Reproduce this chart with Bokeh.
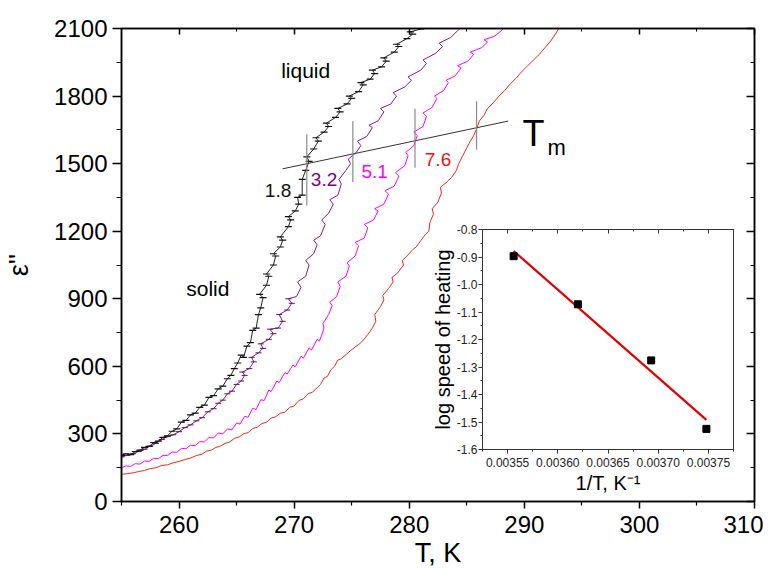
import numpy as np
from bokeh.plotting import figure
from bokeh.layouts import row
from bokeh.models import LinearAxis, FixedTicker, PrintfTickFormatter, Range1d
from bokeh.core.properties import value
from bokeh.embed import file_html
from bokeh.resources import INLINE

FONT = "Liberation Sans"

# ---------------- main chart data ----------------
x_ticks = [260, 270, 280, 290, 300, 310]
x_minor = [255, 265, 275, 285, 295, 305]
y_ticks = [0, 300, 600, 900, 1200, 1500, 1800, 2100]
y_minor = [150, 450, 750, 1050, 1350, 1650, 1950]

# 1.8 K/min (black)
T_18 = [255.0, 255.4, 255.8, 256.2, 256.6, 257.0, 257.4, 257.8, 258.2, 258.6, 259.0, 259.4, 259.8,
        260.2, 260.6, 261.0, 261.4, 261.8, 262.2, 262.6, 263.0, 263.4, 263.8, 264.2, 264.5, 264.8,
        265.1, 265.4, 265.6, 265.9, 266.2, 266.4, 266.7, 266.9, 267.1, 267.3, 267.0, 267.6, 267.8,
        267.6, 268.2, 268.4, 268.2, 268.8, 269.0, 268.8, 269.5, 269.7, 269.5, 270.1, 270.4, 270.3,
        270.7, 270.7, 271.0, 271.3, 271.1, 271.7, 272.1, 271.9, 272.6, 273.0, 272.8, 273.6, 274.0,
        273.8, 274.6, 275.0, 274.8, 275.6, 276.0, 275.8, 276.6, 277.0, 276.8, 277.6, 278.0, 277.8,
        278.7, 279.1, 278.9, 279.8, 280.3, 280.1, 281.0, 281.3]
E_18 = [205, 212, 208, 222, 228, 240, 245, 262, 268, 285, 292, 312, 322,
        352, 360, 385, 392, 418, 428, 462, 470, 500, 512, 545, 560, 590,
        615, 650, 640, 690, 705, 760, 770, 830, 860, 905, 920, 960, 1000,
        1010, 1050, 1090, 1100, 1130, 1160, 1175, 1220, 1250, 1265, 1290, 1320, 1350,
        1360, 1430, 1470, 1510, 1530, 1565, 1600, 1615, 1640, 1665, 1680, 1705, 1730,
        1745, 1765, 1790, 1800, 1820, 1850, 1860, 1875, 1900, 1915, 1930, 1955, 1970,
        1995, 2020, 2030, 2055, 2075, 2085, 2098, 2100]

# 3.2 K/min (purple)
T_32 = [255.0, 255.5, 256.0, 256.5, 257.0, 257.5, 258.0, 258.5, 259.0, 259.5, 260.0, 260.5, 261.0,
        261.5, 262.0, 262.5, 263.0, 263.4, 263.8, 264.2, 264.6, 265.0, 265.4, 265.7, 265.5, 266.1,
        266.5, 266.3, 266.9, 267.3, 267.1, 267.8, 268.2, 267.9, 268.6, 269.0, 268.7, 269.4, 269.8,
        269.5, 270.2, 270.6, 270.3, 271.0, 271.3, 271.0, 271.7, 272.0, 271.7, 272.3, 272.7, 272.4,
        273.0, 273.4, 273.1, 273.8, 274.1, 273.9, 274.5, 274.9, 274.7, 275.4, 275.8, 275.5, 276.3,
        276.8, 276.5, 277.3, 277.8, 277.5, 278.4, 278.9, 278.6, 279.6, 280.2, 279.9, 281.0, 281.5,
        281.2, 282.3, 282.9, 282.6, 283.6, 284.2, 284.4]
E_32 = [198, 205, 212, 222, 232, 246, 258, 275, 288, 296, 310, 328, 340,
        358, 372, 398, 412, 436, 450, 478, 490, 520, 535, 560, 575, 590,
        620, 640, 660, 680, 700, 720, 745, 765, 770, 800, 830, 850, 880,
        900, 910, 950, 975, 1000, 1050, 1070, 1100, 1140, 1160, 1180, 1230, 1250,
        1280, 1320, 1340, 1360, 1410, 1430, 1470, 1500, 1520, 1550, 1580, 1600, 1620,
        1660, 1670, 1690, 1730, 1745, 1765, 1800, 1815, 1840, 1870, 1885, 1915, 1945,
        1960, 1990, 2020, 2035, 2060, 2090, 2100]

# 5.1 K/min (magenta)
T_51 = [255.0, 255.4, 255.8, 256.2, 256.6, 257.0, 257.4, 257.8, 258.2, 258.6, 259.0, 259.4, 259.8,
        260.2, 260.6, 261.0, 261.4, 261.8, 262.2, 262.6, 263.0, 263.4, 263.8, 264.2, 264.6, 265.0,
        265.3, 265.7, 266.0, 266.4, 266.7, 267.1, 267.4, 267.8, 268.0, 268.5, 268.7, 269.2, 269.4,
        269.9, 270.1, 270.6, 270.8, 271.3, 271.5, 272.0, 272.2, 272.6, 272.5, 273.0, 273.3, 273.1,
        273.7, 274.0, 273.8, 274.5, 274.8, 274.6, 275.3, 275.6, 275.3, 276.1, 276.4, 276.1, 276.9,
        277.3, 277.0, 277.8, 278.2, 277.9, 278.7, 279.1, 278.8, 279.6, 279.9, 279.7, 280.4, 280.7,
        280.4, 281.2, 281.5, 281.2, 282.0, 282.4, 282.2, 283.0, 283.4, 283.2, 284.0, 284.5, 284.2,
        285.1, 285.6, 285.3, 286.3, 286.8, 286.5, 287.4, 288.0, 288.2]
E_51 = [150, 158, 156, 168, 166, 180, 178, 192, 190, 205, 204, 220, 218,
        236, 234, 250, 248, 266, 264, 284, 282, 304, 300, 322, 318, 348,
        344, 378, 374, 414, 408, 452, 448, 495, 488, 535, 528, 572, 566,
        606, 598, 645, 636, 682, 672, 720, 712, 770, 790, 830, 870, 885,
        910, 955, 975, 1000, 1045, 1060, 1090, 1135, 1150, 1170, 1215, 1230, 1250,
        1290, 1300, 1320, 1365, 1380, 1400, 1445, 1460, 1490, 1535, 1550, 1580, 1625,
        1640, 1665, 1710, 1725, 1750, 1790, 1800, 1825, 1860, 1870, 1890, 1925, 1935,
        1955, 1985, 1995, 2015, 2040, 2050, 2065, 2090, 2100]

# 7.6 K/min (red)
T_76 = [255.0, 255.5, 256.0, 256.5, 257.0, 257.5, 258.0, 258.5, 259.0, 259.5, 260.0, 260.5, 261.0,
        261.5, 262.0, 262.4, 262.8, 263.2, 263.6, 264.0, 264.4, 264.8, 265.2, 265.6, 266.0, 266.4,
        266.8, 267.2, 267.6, 268.0, 268.4, 268.8, 269.2, 269.6, 270.0, 270.4, 270.8, 271.2, 271.6,
        272.0, 272.3, 272.6, 272.9, 273.2, 273.5, 273.8, 274.1, 274.5, 274.9, 275.3, 275.7, 276.1,
        276.5, 276.8, 277.1, 277.0, 277.5, 277.8, 277.7, 278.2, 278.6, 278.5, 279.0, 279.5, 279.4,
        279.9, 280.3, 280.6, 281.0, 281.4, 281.7, 281.8, 282.1, 282.0, 282.5, 282.8, 282.7, 283.2,
        283.7, 284.1, 284.3, 284.6, 284.9, 285.2, 285.6, 285.9, 286.1, 286.5, 286.8, 287.3, 287.8,
        288.3, 288.8, 289.3, 289.8, 290.3, 290.8, 291.3, 291.8, 292.3, 292.7, 293.0]
E_76 = [120, 124, 127, 133, 138, 146, 150, 160, 163, 172, 178, 186, 193,
        204, 210, 224, 228, 240, 246, 258, 264, 280, 286, 300, 306, 324,
        330, 346, 352, 370, 376, 392, 396, 418, 424, 448, 456, 478, 486,
        505, 520, 548, 556, 585, 600, 628, 634, 652, 670, 686, 700, 722,
        748, 770, 800, 830, 865, 895, 915, 945, 975, 995, 1015, 1050, 1070,
        1095, 1118, 1130, 1158, 1185, 1200, 1240, 1275, 1300, 1330, 1370, 1395, 1415,
        1440, 1470, 1500, 1530, 1560, 1590, 1625, 1660, 1690, 1715, 1745, 1770, 1800,
        1825, 1855, 1880, 1910, 1935, 1960, 1985, 2015, 2045, 2075, 2100]

# melting-point line and markers
tm_line_T = [269.0, 288.6]
tm_line_E = [1477, 1689]
mark_T = [271.1, 275.1, 280.5, 285.85]
mark_lo = [1314, 1418, 1482, 1562]
mark_hi = [1630, 1689, 1744, 1777]

rate_labels = ["1.8", "3.2", "5.1", "7.6"]
rate_lab_T = [268.6, 272.6, 277.0, 282.5]
rate_lab_E = [1381, 1428, 1467, 1517]
rate_colors = ["#111111", "#800080", "#ff00ff", "#ee1111"]

# ---------------- inset data ----------------
inv_T = [0.003556, 0.003620, 0.003693, 0.003748]
log_rate = [-0.897, -1.072, -1.276, -1.525]
ix_ticks = [0.00355, 0.00360, 0.00365, 0.00370, 0.00375]
ix_minor = [0.003525, 0.003575, 0.003625, 0.003675, 0.003725, 0.003775]
iy_ticks = [-1.6, -1.5, -1.4, -1.3, -1.2, -1.1, -1.0, -0.9, -0.8]
iy_minor = [-1.55, -1.45, -1.35, -1.25, -1.15, -1.05, -0.95, -0.85]

# ---------------- main figure ----------------
BT, BB = 28, 69  # top / bottom borders (shared by both figures in the row)
p = figure(width=763, height=BT + 473 + BB, x_range=Range1d(255, 310), y_range=Range1d(0, 2100),
           output_backend="svg", toolbar_location=None,
           min_border_left=121, min_border_right=9, min_border_top=BT, min_border_bottom=BB)
p.xgrid.visible = False
p.ygrid.visible = False
p.outline_line_color = "black"
p.outline_line_width = 1.5
p.background_fill_color = "white"

for ax in (p.xaxis[0], p.yaxis[0]):
    ax.axis_line_width = 1.5
    ax.major_tick_line_width = 1.5
    ax.minor_tick_line_width = 1.2
    ax.major_tick_in = 0
    ax.minor_tick_in = 0
    ax.major_label_text_font = FONT
    ax.major_label_text_font_size = "24px"
    ax.major_label_text_color = "black"
    ax.axis_label_text_font = FONT
    ax.axis_label_text_font_style = "normal"
    ax.axis_label_text_color = "black"

p.xaxis[0].ticker = FixedTicker(ticks=x_ticks, minor_ticks=x_minor)
p.xaxis[0].major_tick_out = 7
p.xaxis[0].minor_tick_out = 4
p.xaxis[0].major_label_standoff = 7
p.xaxis[0].axis_label = "T, K"
p.xaxis[0].axis_label_text_font_size = "27px"
p.xaxis[0].axis_label_standoff = 2

p.yaxis[0].ticker = FixedTicker(ticks=y_ticks, minor_ticks=y_minor)
p.yaxis[0].major_tick_out = 9
p.yaxis[0].minor_tick_out = 5
p.yaxis[0].major_label_standoff = 5
p.yaxis[0].axis_label = "ε''"
p.yaxis[0].axis_label_text_font_size = "27px"
p.yaxis[0].axis_label_standoff = 17

top_ax = LinearAxis(ticker=FixedTicker(ticks=x_ticks, minor_ticks=x_minor),
                    major_tick_in=6, major_tick_out=0, minor_tick_in=3, minor_tick_out=0,
                    axis_line_width=1.5, major_tick_line_width=1.5,
                    major_label_text_font_size="1px", major_label_standoff=0,
                    major_label_overrides={t: "" for t in x_ticks})
right_ax = LinearAxis(ticker=FixedTicker(ticks=y_ticks, minor_ticks=y_minor),
                      major_tick_in=8, major_tick_out=0, minor_tick_in=4, minor_tick_out=0,
                      axis_line_width=1.5, major_tick_line_width=1.5,
                      major_label_text_font_size="1px", major_label_standoff=0,
                      major_label_overrides={t: "" for t in y_ticks})
p.add_layout(top_ax, "above")
p.add_layout(right_ax, "right")

# curves
p.line(T_76, E_76, line_color="#f02a1a", line_width=1)
p.line(T_51, E_51, line_color="#ff00ff", line_width=1)
p.line(T_32, E_32, line_color="#8a188a", line_width=1)
p.scatter(T_32[:40], E_32[:40], marker="dash", size=6, line_color="#5a105a", line_width=1)
p.line(T_18, E_18, line_color="#222222", line_width=1)
p.scatter(T_18, E_18, marker="dash", size=7, line_color="#111111", line_width=1.2)

# Tm construction
p.line(tm_line_T, tm_line_E, line_color="#333333", line_width=1)
p.segment(x0=mark_T, y0=mark_lo, x1=mark_T, y1=mark_hi, line_color="#8a8a8a", line_width=1.2)

p.text(x=rate_lab_T, y=rate_lab_E, text=rate_labels, text_color=rate_colors,
       text_font=value(FONT), text_font_size="19px", text_align="center", text_baseline="middle")
p.text(x=[271.0, 262.5], y=[1914, 946], text=["liquid", "solid"], text_color="black",
       text_font=value(FONT), text_font_size="21px", text_align="center", text_baseline="middle")
p.text(x=[290.8], y=[1635], text=["T"], text_color="black",
       text_font=value(FONT), text_font_size="36px", text_align="center", text_baseline="alphabetic")
p.text(x=[292.8], y=[1572], text=["m"], text_color="black",
       text_font=value(FONT), text_font_size="22px", text_align="center", text_baseline="alphabetic")

# ---------------- inset figure ----------------
# a row shares the top/bottom borders of its plots, so the inset uses the same ones
q = figure(width=320, height=BT + 220 + BB, x_range=Range1d(0.003525, 0.003775),
           y_range=Range1d(-1.6, -0.8),
           output_backend="svg", toolbar_location=None,
           min_border_left=59, min_border_right=10, min_border_top=BT, min_border_bottom=BB)
q.xgrid.visible = False
q.ygrid.visible = False
q.border_fill_color = None
q.background_fill_color = "white"
q.outline_line_color = "#333333"
q.outline_line_width = 1

for ax in (q.xaxis[0], q.yaxis[0]):
    ax.axis_line_color = "#333333"
    ax.major_tick_line_color = "#333333"
    ax.minor_tick_line_color = "#333333"
    ax.major_tick_in = 0
    ax.major_tick_out = 4
    ax.minor_tick_in = 0
    ax.minor_tick_out = 2
    ax.major_label_text_font = FONT
    ax.major_label_text_font_size = "12px"
    ax.major_label_text_color = "#222222"
    ax.axis_label_text_font = FONT
    ax.axis_label_text_font_style = "normal"
    ax.axis_label_text_font_size = "20px"
    ax.axis_label_text_color = "black"

q.xaxis[0].ticker = FixedTicker(ticks=ix_ticks, minor_ticks=ix_minor)
q.xaxis[0].formatter = PrintfTickFormatter(format="%.5f")
q.xaxis[0].major_label_standoff = 4
q.xaxis[0].axis_label = "1/T, K⁻¹"
q.xaxis[0].axis_label_standoff = 2
q.yaxis[0].ticker = FixedTicker(ticks=iy_ticks, minor_ticks=iy_minor)
q.yaxis[0].formatter = PrintfTickFormatter(format="%.1f")
q.yaxis[0].major_label_standoff = 1
q.yaxis[0].axis_label = "log speed of heating"
q.yaxis[0].axis_label_standoff = 0

q_top = LinearAxis(ticker=FixedTicker(ticks=ix_ticks, minor_ticks=ix_minor),
                   major_tick_in=4, major_tick_out=0, minor_tick_in=2, minor_tick_out=0,
                   axis_line_color="#333333", major_tick_line_color="#333333",
                   minor_tick_line_color="#333333",
                   major_label_text_font_size="1px", major_label_standoff=0,
                   major_label_overrides={t: "" for t in ix_ticks})
q.add_layout(q_top, "above")

coef = np.polyfit(inv_T, log_rate, 1)
fit_x = [inv_T[0], inv_T[-1]]
fit_y = [float(np.polyval(coef, v)) for v in fit_x]
q.line(fit_x, fit_y, line_color="#e00000", line_width=2.2)
q.scatter(inv_T, log_rate, marker="square", size=7, fill_color="black", line_color="black")

# overlay the inset on the main chart (absolute position inside the row)
q.styles = {"position": "absolute", "left": "423px", "top": "201px", "z-index": "2"}

layout = row(p, q)
layout.styles = {"position": "relative"}
open("out.html", "w").write(file_html(layout, INLINE))
